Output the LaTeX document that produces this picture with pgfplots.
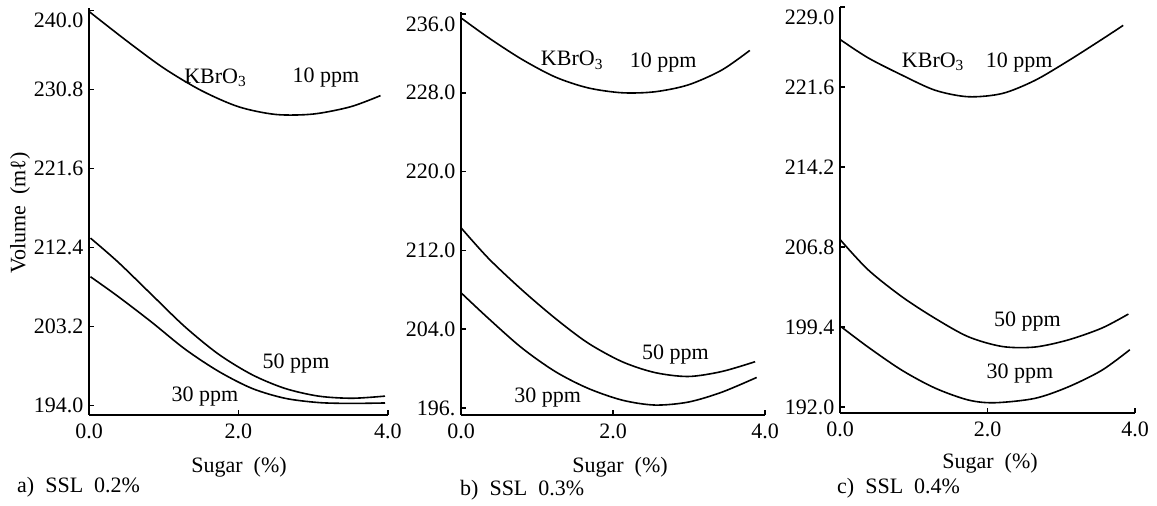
\documentclass[border=0pt]{standalone}
\usepackage{fontspec}
\setmainfont{Liberation Serif}
\usepackage{pgfplots}
\pgfplotsset{compat=1.18}
\newcommand{\fs}{\fontsize{22bp}{26bp}\selectfont}
\pgfplotsset{panel/.style={
  scale only axis, anchor=south west, axis lines=left, axis line style={-, line width=1.8bp},
  enlargelimits=false, tick align=inside, major tick length=5bp,
  tick style={line width=1.5bp, black},
  tick label style={font=\fs}, xtick={0,2,4}, xticklabels={0.0,2.0,4.0},
  xticklabel style={yshift=-5bp}, yticklabel style={xshift=-2bp},
  extra y tick style={yticklabel style={yshift=-10bp}},
  xmin=0, xmax=4, clip=false,
}, crv/.style={black, line width=1.6bp, smooth, mark=none}}
\begin{document}
\begin{tikzpicture}
\useasboundingbox (0,0) rectangle (1157bp,506bp);
% Panel a
\begin{axis}[panel, at={(89bp,91bp)}, width=299bp, height=407bp,
  ymin=192.9, ymax=240.3,
  ytick={194,203.2,212.4,221.6,230.8}, yticklabels={194.0,203.2,212.4,221.6,230.8},
  extra y ticks={240}, extra y tick labels={240.0}]
\addplot[crv] coordinates {(0,239.9) (0.5,236.5) (1.0,233.3) (1.5,230.7) (2.0,228.8) (2.5,227.9) (3.0,227.95) (3.5,228.8) (3.9,230.1)};
\addplot[crv] coordinates {(0.02,213.5) (0.39,210.7) (0.84,206.9) (1.28,203.2) (1.73,200.0) (2.18,197.6) (2.62,196.0) (3.07,195.1) (3.52,194.85) (3.96,195.1)};
\addplot[crv] coordinates {(0.02,209.0) (0.39,206.7) (0.84,203.7) (1.28,200.6) (1.73,198.0) (2.18,196.0) (2.62,194.85) (3.07,194.35) (3.5,194.25) (3.96,194.3)};
\node[font=\fs] at (axis cs:1.69,232.15) {KBrO\textsubscript{3}};
\node[font=\fs] at (axis cs:3.17,232.15) {10 ppm};
\node[font=\fs] at (axis cs:2.77,198.9) {50 ppm};
\node[font=\fs] at (axis cs:1.55,195.1) {30 ppm};
\end{axis}
% Panel b
\begin{axis}[panel, at={(461bp,91bp)}, width=304bp, height=403bp,
  ymin=195.29, ymax=236.2,
  ytick={196,204,212,220,228}, yticklabels={196.,204.0,212.0,220.0,228.0},
  extra y ticks={236}, extra y tick labels={236.0}]
\addplot[crv] coordinates {(0,235.6) (0.36,233.6) (0.80,231.4) (1.24,229.6) (1.67,228.5) (2.12,228.0) (2.55,228.1) (2.99,228.8) (3.43,230.3) (3.80,232.3)};
\addplot[crv] coordinates {(0,214.3) (0.36,211.2) (0.80,208.0) (1.24,205.1) (1.67,202.6) (2.12,200.7) (2.55,199.6) (2.99,199.2) (3.43,199.7) (3.87,200.7)};
\addplot[crv] coordinates {(0,207.7) (0.36,205.1) (0.80,202.1) (1.24,199.7) (1.67,198.0) (2.12,196.8) (2.55,196.3) (2.99,196.6) (3.43,197.6) (3.89,199.1)};
\node[font=\fs] at (axis cs:1.46,231.3) {KBrO\textsubscript{3}};
\node[font=\fs] at (axis cs:2.66,231.1) {10 ppm};
\node[font=\fs] at (axis cs:2.82,201.4) {50 ppm};
\node[font=\fs] at (axis cs:1.14,197.1) {30 ppm};
\end{axis}
% Panel c
\begin{axis}[panel, at={(840bp,93bp)}, width=295bp, height=406bp,
  ymin=191.45, ymax=229.0,
  ytick={192,199.4,206.8,214.2,221.6}, yticklabels={192.0,199.4,206.8,214.2,221.6},
  extra y ticks={229}, extra y tick labels={229.0}]
\addplot[crv] coordinates {(0,226.0) (0.38,224.3) (0.84,222.7) (1.29,221.3) (1.74,220.7) (2.20,221.0) (2.64,222.2) (3.09,224.0) (3.55,226.0) (3.84,227.3)};
\addplot[crv] coordinates {(0,207.5) (0.38,204.7) (0.84,202.2) (1.29,200.2) (1.74,198.5) (2.20,197.6) (2.64,197.55) (3.09,198.2) (3.55,199.3) (3.91,200.6)};
\addplot[crv] coordinates {(0.02,199.4) (0.38,197.55) (0.84,195.4) (1.29,193.75) (1.74,192.65) (2.10,192.4) (2.64,192.8) (3.09,193.85) (3.55,195.4) (3.93,197.3)};
\node[font=\fs] at (axis cs:1.26,223.9) {KBrO\textsubscript{3}};
\node[font=\fs] at (axis cs:2.43,223.9) {10 ppm};
\node[font=\fs] at (axis cs:2.54,199.9) {50 ppm};
\node[font=\fs] at (axis cs:2.44,195.1) {30 ppm};
\end{axis}
% labels
\node[font=\fs, rotate=90] at (20bp,293bp) {Volume\ \ (mℓ)};
\node[font=\fs, anchor=base] at (239bp,34bp) {Sugar\ \ (\%)};
\node[font=\fs, anchor=base] at (620bp,34bp) {Sugar\ \ (\%)};
\node[font=\fs, anchor=base] at (990bp,38bp) {Sugar\ \ (\%)};
\node[font=\fs, anchor=base west, inner sep=0pt] at (17bp,14bp) {a)\ \ SSL\ \ 0.2\%};
\node[font=\fs, anchor=base west, inner sep=0pt] at (460bp,11bp) {b)\ \ SSL\ \ 0.3\%};
\node[font=\fs, anchor=base west, inner sep=0pt] at (837bp,13bp) {c)\ \ SSL\ \ 0.4\%};
\end{tikzpicture}
\end{document}
